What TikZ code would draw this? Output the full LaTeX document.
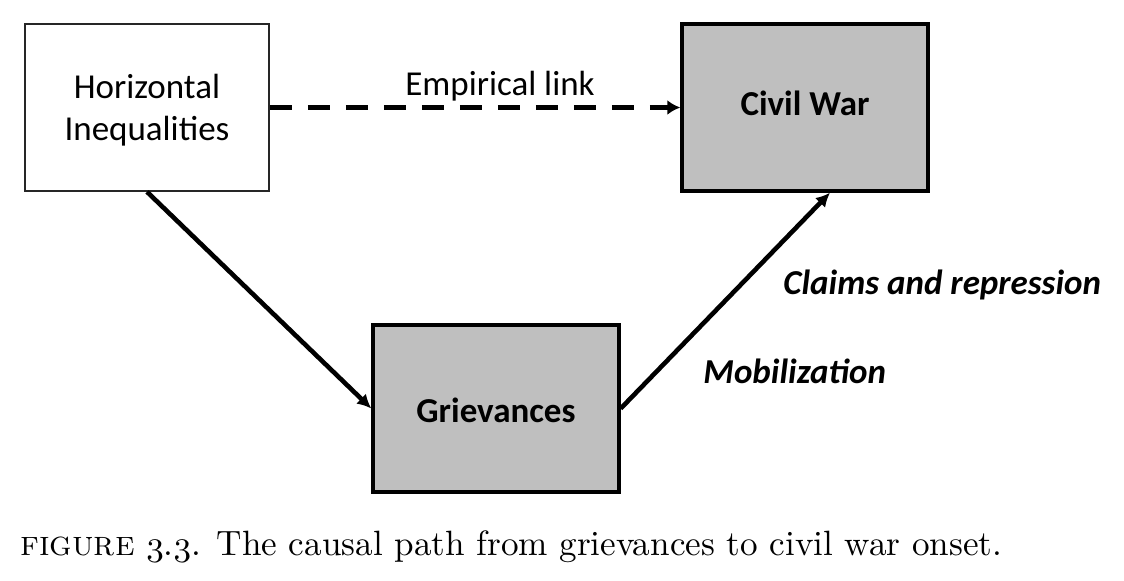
\documentclass[tikz,border=0pt]{standalone}
\usepackage{fontspec}
\usepackage{graphicx}
\usetikzlibrary{arrows.meta}
\newfontfamily\calfont{Carlito}
\tikzset{
  whitebox/.style={draw=black!85, line width=0.8pt, fill=white, minimum width=122pt, minimum height=83.5pt, inner sep=0pt, align=center, font=\calfont\fontsize{17.5}{21}\selectfont},
  graybox/.style={draw=black, line width=1.7pt, fill=black!25, minimum width=123pt, minimum height=83.5pt, inner sep=0pt, font=\calfont\bfseries\fontsize{17.5}{21}\selectfont},
  lbl/.style={anchor=base west, inner sep=0pt, font=\calfont\fontsize{17.5}{21}\selectfont},
  lblbi/.style={lbl, font=\calfont\bfseries\itshape\fontsize{17.5}{21}\selectfont},
  arr/.style={line width=2.3pt, -{Latex[length=7pt,width=7pt]}},
  darr/.style={line width=2.5pt, dash pattern=on 11pt off 8pt, -{Latex[length=6.5pt,width=7.5pt]}},
}
\begin{document}
\begin{tikzpicture}[x=0.5pt,y=-0.5pt]
  \useasboundingbox[fill=white] (0,0) rectangle (1124,580);
  \node[whitebox, text depth=0pt] (HI) at (147,107.5) {Horizontal\\Inequalities};
  \node[graybox, text height=7.5pt, text depth=0pt] (CW) at (805,107.5) {Civil War};
  \node[graybox, text height=13.5pt, text depth=0pt] (G) at (496,408.5) {Grievances};
  \draw[darr] (HI.east) -- (CW.west);
  \draw[arr] (HI.south) -- (G.west);
  \draw[arr] (G.east) -- ([xshift=12.5pt]CW.south);
  \node[lbl] (EL) at (405,95) {Empirical link};
  \node[lblbi] (CR) at (783,294) {Claims and repression};
  \node[lblbi] (MO) at (703,383) {Mobilization};
  \node[anchor=base west, inner sep=0pt] (CAP) at (20,555) {\resizebox{491pt}{!}{\textsc{figure} {\usefont{OML}{cmm}{m}{it}3}.{\usefont{OML}{cmm}{m}{it}3}. The causal path from grievances to civil war onset.}};
\end{tikzpicture}
\end{document}
